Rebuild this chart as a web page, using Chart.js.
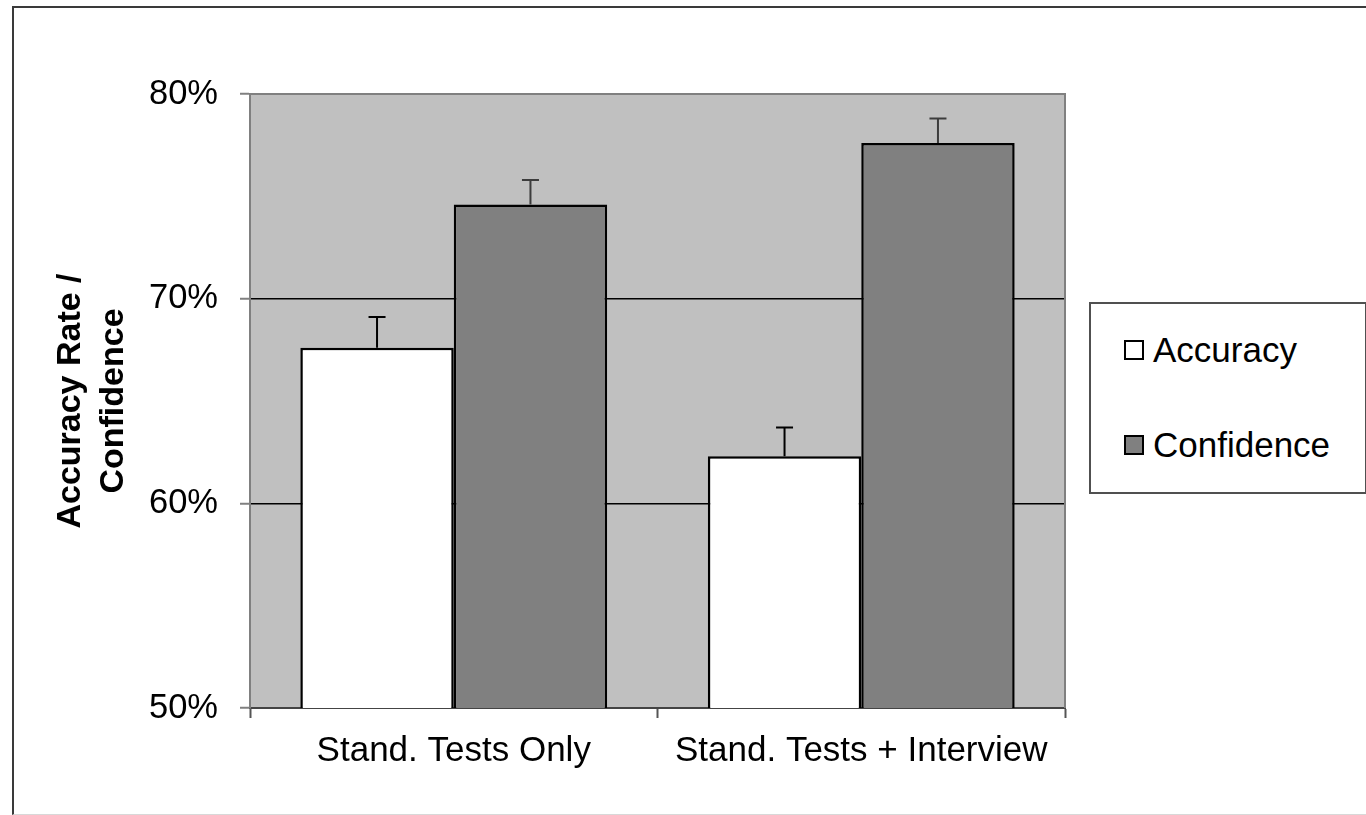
<!DOCTYPE html>
<html>
<head>
<meta charset="utf-8">
<script src="https://cdn.jsdelivr.net/npm/chart.js@4.4.1/dist/chart.umd.min.js"></script>
<style>
  html, body { margin: 0; padding: 0; background: #fff; }
  #wrap { position: relative; width: 1366px; height: 815px; overflow: hidden; }
  #frame { position: absolute; left: 12px; top: 6px; width: 1400px; height: 806px;
           border-left: 2px solid #3a3a3a; border-top: 2px solid #3a3a3a; border-bottom: 1px solid #d8d8d8; }
  canvas { position: absolute; left: 0; top: 0; }
  #legend { position: absolute; left: 1089px; top: 302px; width: 274px; height: 188px;
            border: 2px solid #505050; background: #fff;
            font-family: "Liberation Sans", Arial, sans-serif; font-size: 35px; color: #000; }
  .item { position: absolute; left: 33px; height: 40px; display: flex; align-items: center; }
  .sw { width: 16px; height: 16px; border: 2px solid #000; margin-right: 9px; }
</style>
</head>
<body>
<div id="wrap">
  <div id="frame"></div>
  <canvas id="c" width="1366" height="815"></canvas>
  <div id="legend"></div>
</div>
<script>
// ---- data ----
const categories = ['Stand. Tests Only', 'Stand. Tests + Interview'];
const seriesNames = ['Accuracy', 'Confidence'];
const accuracy = [67.6, 62.3];
const confidence = [74.6, 77.6];
const accuracyErr = [1.5, 1.4];
const confidenceErr = [1.2, 1.2];
const yTicks = [50, 60, 70, 80];
const yTitle = ['Accuracy Rate /', 'Confidence'];

const FONT = '"Liberation Sans", Arial, sans-serif';
const fills = ['#ffffff', '#808080'];
const errColors = ['#000000', '#3c3c3c'];
const errors = [accuracyErr, confidenceErr];

const bgPlugin = {
  id: 'bg',
  beforeDraw(chart) {
    const a = chart.chartArea, ctx = chart.ctx;
    ctx.save();
    ctx.fillStyle = '#c0c0c0';
    ctx.fillRect(a.left, a.top, a.right - a.left, a.bottom - a.top);
    ctx.restore();
  },
  afterDraw(chart) {
    const a = chart.chartArea, ctx = chart.ctx;
    ctx.save();
    ctx.strokeStyle = '#808080';
    ctx.lineWidth = 2;
    ctx.beginPath();
    ctx.moveTo(a.left, a.top);
    ctx.lineTo(a.right, a.top);
    ctx.lineTo(a.right, a.bottom);
    ctx.stroke();
    ctx.restore();
  }
};

const errPlugin = {
  id: 'errbars',
  afterDatasetsDraw(chart) {
    const ctx = chart.ctx, ys = chart.scales.y;
    chart.data.datasets.forEach((ds, i) => {
      const meta = chart.getDatasetMeta(i);
      meta.data.forEach((bar, j) => {
        const top = ys.getPixelForValue(ds.data[j] + errors[i][j]);
        const base = ys.getPixelForValue(ds.data[j]);
        ctx.save();
        ctx.strokeStyle = errColors[i];
        ctx.lineWidth = 2;
        ctx.beginPath();
        ctx.moveTo(bar.x, base);
        ctx.lineTo(bar.x, top);
        ctx.moveTo(bar.x - 8.5, top);
        ctx.lineTo(bar.x + 8.5, top);
        ctx.stroke();
        ctx.restore();
      });
    });
  }
};

const chart = new Chart(document.getElementById('c'), {
  type: 'bar',
  data: {
    labels: categories,
    datasets: [
      { label: seriesNames[0], data: accuracy, backgroundColor: fills[0], borderColor: '#000', borderWidth: 2.5, borderSkipped: false },
      { label: seriesNames[1], data: confidence, backgroundColor: fills[1], borderColor: '#000', borderWidth: 2.5, borderSkipped: false }
    ]
  },
  options: {
    responsive: false,
    animation: false,
    layout: { padding: { left: 0, top: 94, right: 301, bottom: 0 } },
    plugins: { legend: { display: false }, tooltip: { enabled: false } },
    datasets: { bar: { categoryPercentage: 0.753, barPercentage: 1.0 } },
    scales: {
      x: {
        afterFit(s) { s.height = 107; },
        grid: { offset: true, drawOnChartArea: false, drawTicks: true, tickLength: 10, tickColor: '#555', tickWidth: 2 },
        border: { display: true, color: '#444', width: 2 },
        ticks: { color: '#000', padding: 12, font: { family: FONT, size: 35 }, maxRotation: 0 }
      },
      y: {
        min: 50, max: 80,
        afterFit(s) { s.width = 250; },
        afterBuildTicks(s) { s.ticks = yTicks.map(v => ({ value: v })); },
        grid: {
          drawTicks: true, tickLength: 10, tickColor: '#808080', tickWidth: 2,
          color: c => (c.tick && (c.tick.value === 60 || c.tick.value === 70)) ? '#000' : 'rgba(0,0,0,0)',
          lineWidth: 1.5
        },
        border: { display: true, color: '#808080', width: 2 },
        ticks: { color: '#000', padding: 22, font: { family: FONT, size: 34.5 }, callback: v => v + '%' },
        title: {
          display: true, text: yTitle, color: '#000',
          font: { family: FONT, size: 34, weight: 'bold', lineHeight: 1.265 },
          padding: { top: 49, bottom: 0 }
        }
      }
    }
  },
  plugins: [bgPlugin, errPlugin]
});

// legend (HTML, built from dataset labels)
const leg = document.getElementById('legend');
const itemTops = [26, 121];
chart.data.datasets.forEach((ds, i) => {
  const it = document.createElement('div');
  it.className = 'item';
  it.style.top = itemTops[i] + 'px';
  const sw = document.createElement('div');
  sw.className = 'sw';
  sw.style.background = ds.backgroundColor;
  const tx = document.createElement('span');
  tx.textContent = ds.label;
  it.appendChild(sw); it.appendChild(tx);
  leg.appendChild(it);
});
</script>
</body>
</html>
